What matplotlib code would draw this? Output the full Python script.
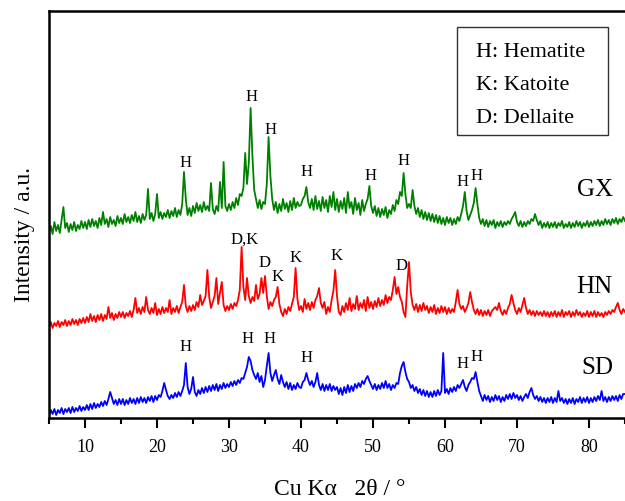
import numpy as np
import matplotlib
matplotlib.use("Agg")
import matplotlib.pyplot as plt
from matplotlib.ticker import MultipleLocator
from matplotlib.patches import Rectangle

plt.rcParams['font.family'] = ['Liberation Serif', 'DejaVu Serif']

# scan grid, 5-85 deg in 0.25 deg steps
two_theta = np.linspace(5, 85, 321)

# intensities (a.u., already offset per sample), one row per 5 degrees
gx = [
    186, 192, 184, 196, 187, 193, 185, 198, 211, 190, 195, 186, 194, 188, 196, 187, 193, 189, 197, 190,
    196, 189, 198, 191, 199, 192, 197, 190, 200, 193, 206, 194, 199, 191, 201, 194, 198, 192, 202, 195,
    200, 194, 204, 196, 201, 195, 203, 197, 206, 196, 202, 195, 204, 198, 203, 229, 199, 205, 197, 204,
    224, 200, 206, 199, 205, 201, 208, 200, 207, 202, 210, 201, 208, 203, 214, 246, 219, 203, 210, 202,
    212, 205, 215, 207, 213, 206, 216, 208, 212, 207, 235, 209, 204, 212, 207, 236, 210, 256, 212, 207,
    214, 208, 216, 210, 220, 213, 224, 222, 230, 265, 234, 255, 310, 262, 228, 219, 210, 218, 209, 216,
    214, 234, 281, 242, 219, 208, 216, 205, 214, 207, 219, 209, 215, 206, 217, 208, 220, 210, 216, 212,
    213, 219, 222, 231, 216, 210, 219, 208, 222, 209, 217, 207, 221, 210, 218, 206, 222, 211, 226, 208,
    219, 206, 217, 209, 220, 205, 226, 210, 216, 204, 220, 208, 215, 203, 218, 207, 214, 219, 232, 212,
    205, 212, 202, 210, 201, 209, 203, 211, 200, 208, 204, 213, 207, 218, 214, 226, 222, 245, 224, 210,
    214, 210, 228, 212, 204, 210, 201, 208, 199, 206, 198, 205, 197, 204, 196, 203, 195, 202, 194, 200,
    193, 201, 195, 200, 193, 199, 194, 201, 197, 204, 212, 226, 207, 198, 203, 208, 215, 230, 214, 200,
    194, 199, 192, 198, 191, 197, 193, 198, 190, 196, 192, 197, 191, 196, 193, 197, 194, 199, 202, 206,
    196, 192, 197, 191, 196, 192, 197, 194, 199, 197, 204, 198, 193, 197, 190, 195, 191, 196, 190, 195,
    191, 196, 190, 195, 192, 197, 190, 194, 191, 196, 190, 195, 191, 197, 192, 196, 190, 195, 192, 197,
    191, 196, 192, 197, 193, 198, 192, 197, 193, 199, 194, 198, 193, 199, 195, 200, 194, 199, 196, 201,
    197,
]

hn = [
    91, 96, 90, 95, 92, 97, 91, 96, 93, 98, 92, 97, 93, 99, 94, 98, 93, 99, 95, 100,
    95, 101, 96, 104, 97, 102, 96, 103, 98, 104, 97, 103, 99, 111, 100, 105, 98, 104, 100, 106,
    101, 106, 100, 105, 102, 107, 101, 108, 120, 105, 110, 104, 111, 106, 121, 108, 104, 110, 105, 115,
    103, 109, 104, 111, 105, 110, 106, 118, 104, 110, 106, 112, 105, 111, 116, 133, 112, 106, 112, 107,
    113, 108, 116, 111, 123, 113, 117, 122, 148, 121, 110, 116, 122, 140, 114, 125, 136, 113, 107, 112,
    108, 114, 109, 115, 112, 118, 128, 171, 131, 118, 140, 122, 115, 121, 117, 133, 119, 124, 140, 125,
    142, 122, 109, 116, 112, 118, 121, 131, 114, 106, 102, 109, 104, 111, 107, 114, 121, 150, 119, 108,
    112, 106, 119, 109, 115, 108, 116, 110, 118, 122, 130, 115, 110, 116, 104, 111, 106, 118, 127, 148,
    122, 106, 103, 112, 106, 115, 108, 120, 107, 114, 109, 122, 108, 115, 110, 118, 107, 121, 110, 116,
    109, 117, 111, 120, 112, 118, 113, 123, 115, 121, 118, 128, 141, 124, 131, 121, 116, 106, 101, 132,
    156, 126, 113, 108, 114, 106, 113, 107, 115, 108, 112, 105, 111, 106, 113, 104, 110, 105, 112, 106,
    111, 104, 110, 105, 109, 106, 116, 128, 114, 109, 112, 106, 110, 115, 126, 116, 108, 104, 109, 103,
    108, 102, 107, 103, 108, 102, 107, 109, 111, 108, 115, 107, 103, 108, 104, 110, 114, 123, 115, 108,
    104, 110, 106, 113, 120, 110, 104, 108, 103, 107, 102, 107, 103, 106, 102, 107, 102, 106, 101, 106,
    102, 107, 101, 106, 102, 108, 101, 106, 103, 107, 101, 106, 102, 108, 103, 106, 101, 105, 102, 107,
    101, 106, 102, 107, 101, 106, 102, 105, 101, 106, 103, 107, 104, 108, 106, 111, 115, 108, 104, 109,
    106,
]

sd = [
    3, 8, 4, 9, 3, 8, 5, 10, 4, 9, 6, 10, 5, 11, 6, 10, 7, 12, 7, 11,
    8, 13, 8, 14, 9, 15, 10, 14, 11, 16, 12, 17, 13, 19, 26, 20, 14, 18, 13, 19,
    14, 19, 13, 18, 14, 20, 15, 19, 14, 20, 15, 21, 16, 20, 15, 21, 17, 22, 16, 22,
    18, 23, 21, 27, 35, 28, 22, 19, 23, 20, 25, 21, 26, 22, 27, 33, 55, 31, 24, 29,
    41, 26, 22, 28, 24, 30, 25, 31, 26, 32, 27, 33, 28, 34, 27, 33, 29, 35, 30, 34,
    31, 36, 32, 37, 33, 38, 35, 40, 39, 45, 51, 61, 57, 48, 43, 39, 45, 36, 42, 31,
    38, 52, 65, 45, 37, 43, 48, 39, 34, 43, 36, 31, 36, 29, 35, 28, 33, 29, 35, 31,
    30, 36, 38, 45, 38, 33, 37, 31, 36, 45, 33, 28, 34, 27, 33, 28, 34, 27, 32, 28,
    31, 24, 30, 23, 31, 25, 33, 26, 32, 27, 34, 30, 35, 31, 37, 34, 39, 42, 37, 33,
    29, 34, 28, 33, 29, 35, 30, 37, 30, 34, 28, 33, 30, 35, 34, 45, 52, 56, 46, 39,
    36, 30, 33, 27, 31, 25, 29, 23, 28, 22, 27, 21, 26, 21, 27, 22, 28, 23, 27, 65,
    25, 29, 24, 30, 26, 31, 27, 33, 30, 34, 38, 31, 27, 33, 36, 40, 39, 46, 36, 27,
    22, 17, 23, 18, 22, 16, 21, 17, 23, 18, 22, 16, 21, 17, 23, 19, 24, 19, 25, 20,
    23, 18, 22, 17, 21, 24, 20, 26, 30, 23, 19, 22, 17, 21, 16, 20, 15, 20, 16, 21,
    15, 20, 16, 27, 17, 20, 15, 19, 14, 19, 15, 20, 14, 19, 16, 21, 15, 20, 16, 21,
    15, 20, 16, 21, 17, 22, 18, 27, 17, 21, 16, 21, 17, 22, 18, 22, 17, 23, 19, 24,
    24,
]

# phase markers: (2theta, height, letter)
gx_marks = [(24.0, 255, 'H'), (33.1, 321, 'H'), (35.8, 288, 'H'), (40.8, 246, 'H'),
            (49.7, 242, 'H'), (54.2, 257, 'H'), (62.5, 236, 'H'), (64.4, 242, 'H')]
hn_marks = [(32.2, 178, 'D,K'), (34.9, 155, 'D'), (36.7, 141, 'K'), (39.3, 160, 'K'),
            (44.9, 162, 'K'), (54.0, 152, 'D')]
sd_marks = [(23.9, 71, 'H'), (32.6, 79, 'H'), (35.6, 79, 'H'), (40.8, 60, 'H'),
            (62.4, 54, 'H'), (64.4, 61, 'H')]

samples = ['GX', 'HN', 'SD']
sample_pos = [(80.8, 228), (80.8, 131), (81.2, 50)]
colors = ['#008000', '#ff0000', '#0000ff']
legend_lines = ['H: Hematite', 'K: Katoite', 'D: Dellaite']

fig = plt.figure(figsize=(6.25, 5.01), dpi=100)
ax = fig.add_axes([49/625, 83/501, 576/625, 407/501])

for ys, c in zip([gx, hn, sd], colors):
    ax.plot(two_theta, ys, color=c, linewidth=1.3)

for marks in [gx_marks, hn_marks, sd_marks]:
    for x, y, s in marks:
        ax.text(x, y, s, fontsize=12, ha='center', va='center')

for name, (x, y) in zip(samples, sample_pos):
    ax.text(x, y, name, fontsize=18, ha='center', va='center')

# legend box for the phase letters
ax.add_patch(Rectangle((0.708, 0.695), 0.262, 0.266, transform=ax.transAxes,
                       fill=False, edgecolor='#333333', linewidth=1.0))
for i, s in enumerate(legend_lines):
    ax.text(0.741, 0.899 - i*0.081, s, fontsize=16, ha='left', va='center',
            transform=ax.transAxes)

ax.set_xlim(5, 85)
ax.set_ylim(0, 407)
ax.xaxis.set_major_locator(MultipleLocator(10))
ax.xaxis.set_minor_locator(MultipleLocator(5))
ax.set_yticks([])
ax.tick_params(axis='x', which='major', length=7, width=1.5, labelsize=13, pad=8)
ax.tick_params(axis='x', which='minor', length=4, width=1.5)
ax.spines['right'].set_visible(False)
for sp in ['left', 'top', 'bottom']:
    ax.spines[sp].set_linewidth(1.8)

ax.set_xlabel('Cu K\u03b1   2\u03b8 / \u00b0', fontsize=17)
ax.xaxis.label.set_va('baseline')
ax.xaxis.set_label_coords(0.505, -0.189)
ax.set_ylabel('Intensity / a.u.', fontsize=17)
ax.yaxis.label.set_va('center')
ax.yaxis.set_label_coords(-0.042, 0.452)

plt.savefig('out.png', dpi=100)
